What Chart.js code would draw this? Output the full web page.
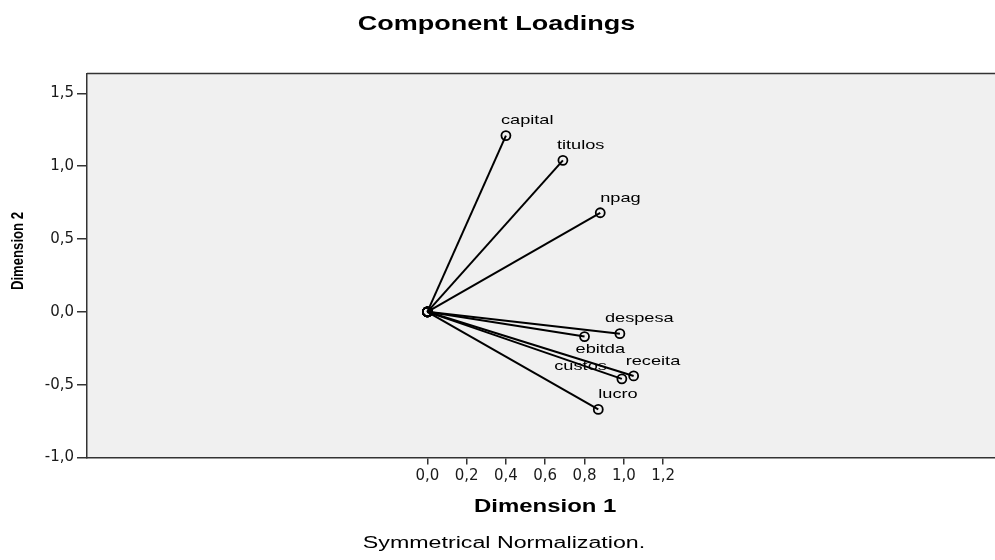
<!DOCTYPE html>
<html>
<head>
<meta charset="utf-8">
<title>Component Loadings</title>
<script src="https://cdn.jsdelivr.net/npm/chart.js@4.4.1/dist/chart.umd.min.js"></script>
<style>
    html, body { margin: 0; padding: 0; background: #ffffff; }
    #wrap { width: 995px; height: 560px; }
</style>
</head>
<body>
<div id="wrap"><canvas id="loadingsChart" width="995" height="560"></canvas></div>
<script>
// Datos (cargas de los componentes)
const VARIABLES = ['capital', 'titulos', 'npag', 'despesa', 'ebitda', 'receita', 'custos', 'lucro'];
const DIM1 = [0.40, 0.69, 0.88, 0.98, 0.80, 1.05, 0.99, 0.87];
const DIM2 = [1.21, 1.04, 0.68, -0.15, -0.17, -0.44, -0.46, -0.67];
const X_TICKS = [0.0, 0.2, 0.4, 0.6, 0.8, 1.0, 1.2];
const Y_TICKS = [-1.0, -0.5, 0.0, 0.5, 1.0, 1.5];
const X_RANGE = [-1.732, 2.889];
const Y_RANGE = [-1.0, 1.636];

// Colocación de etiquetas (px respecto al punto)
const LABEL_PLACEMENT = [
    { align: 'left', dx: -5, dy: -15 },
    { align: 'left', dx: -6, dy: -15 },
    { align: 'left', dx: 0, dy: -14 },
    { align: 'left', dx: -15, dy: -15 },
    { align: 'left', dx: -9, dy: 13 },
    { align: 'left', dx: -8, dy: -14 },
    { align: 'right', dx: -15, dy: -12 },
    { align: 'left', dx: 0, dy: -15 }
];

const COLORS = {
    ink: '#000000',
    axis: '#333333',
    plotBg: '#f0f0f0',
    tick: '#1a1a1a'
};
const FONT = "'Liberation Sans', Arial, sans-serif";

function fmt(v) {
    return Number(v).toFixed(1).replace('.', ',');
}

/**
 * Texto con estiramiento horizontal (sx)
 */
function drawText(ctx, text, x, y, font, sx, align, baseline) {
    ctx.save();
    ctx.font = font;
    ctx.fillStyle = COLORS.ink;
    ctx.textAlign = align || 'center';
    ctx.textBaseline = baseline || 'alphabetic';
    ctx.translate(x, y);
    ctx.scale(sx, 1);
    ctx.fillText(text, 0, 0);
    ctx.restore();
}

// Fondo gris y borde superior del área
const plotFrame = {
    id: 'plotFrame',
    beforeDraw(chart) {
        const { ctx, chartArea: a } = chart;
        ctx.save();
        ctx.fillStyle = COLORS.plotBg;
        ctx.fillRect(a.left, a.top, chart.width - a.left, a.bottom - a.top);
        ctx.strokeStyle = COLORS.axis;
        ctx.lineWidth = 1.5;
        ctx.beginPath();
        ctx.moveTo(a.left, a.top);
        ctx.lineTo(chart.width, a.top);
        ctx.stroke();
        ctx.restore();
    }
};

// Nombres de las variables junto a cada punto
const pointLabels = {
    id: 'pointLabels',
    afterDatasetsDraw(chart) {
        const ctx = chart.ctx;
        VARIABLES.forEach((name, i) => {
            const pt = chart.getDatasetMeta(i).data[1];
            const p = LABEL_PLACEMENT[i];
            drawText(ctx, name, pt.x + p.dx, pt.y + p.dy, '13px ' + FONT, 1.4, p.align, 'middle');
        });
    }
};

// Título, títulos de ejes y nota
const chartTexts = {
    id: 'chartTexts',
    afterDraw(chart) {
        const ctx = chart.ctx;
        const x = chart.scales.x;
        const xMid = (x.getPixelForValue(X_TICKS[0]) + x.getPixelForValue(X_TICKS[X_TICKS.length - 1])) / 2;

        drawText(ctx, 'Component Loadings', 496.5, 30, 'bold 20px ' + FONT, 1.35);
        drawText(ctx, 'Dimension 1', xMid, 512, 'bold 18px ' + FONT, 1.33);
        drawText(ctx, 'Symmetrical Normalization.', 504, 548, '16px ' + FONT, 1.45);

        ctx.save();
        ctx.translate(19, 251);
        ctx.rotate(-Math.PI / 2);
        drawText(ctx, 'Dimension 2', 0, 0, 'bold 16px ' + FONT, 0.82, 'center', 'middle');
        ctx.restore();
    }
};

const datasets = VARIABLES.map((name, i) => ({
    label: name,
    data: [{ x: 0, y: 0 }, { x: DIM1[i], y: DIM2[i] }],
    showLine: true,
    fill: false,
    borderColor: COLORS.ink,
    borderWidth: 2,
    pointRadius: 4.5,
    pointBorderWidth: 1.8,
    pointBorderColor: COLORS.ink,
    pointBackgroundColor: 'rgba(0,0,0,0)'
}));

new Chart(document.getElementById('loadingsChart'), {
    type: 'scatter',
    data: { datasets: datasets },
    plugins: [plotFrame, pointLabels, chartTexts],
    options: {
        responsive: false,
        animation: false,
        events: [],
        layout: {
            autoPadding: false,
            padding: { top: 73.5, right: 0, bottom: 67.5, left: 0 }
        },
        plugins: {
            legend: { display: false },
            tooltip: { enabled: false },
            title: { display: false }
        },
        scales: {
            x: {
                type: 'linear',
                min: X_RANGE[0],
                max: X_RANGE[1],
                afterBuildTicks: s => { s.ticks = X_TICKS.map(v => ({ value: v })); },
                afterFit: s => {
                    s.height = 35;
                    s.paddingLeft = 0;
                    s.paddingRight = 0;
                },
                grid: { drawOnChartArea: false, drawTicks: true, tickLength: 7, color: COLORS.axis, lineWidth: 1.5 },
                border: { display: true, color: COLORS.axis, width: 1.5 },
                ticks: {
                    padding: 3,
                    color: COLORS.tick,
                    autoSkip: false,
                    maxRotation: 0,
                    font: { family: "'DejaVu Sans', sans-serif", size: 15 },
                    callback: v => fmt(v)
                }
            },
            y: {
                type: 'linear',
                min: Y_RANGE[0],
                max: Y_RANGE[1],
                afterBuildTicks: s => { s.ticks = Y_TICKS.map(v => ({ value: v })); },
                afterFit: s => { s.width = 87; },
                grid: { drawOnChartArea: false, drawTicks: true, tickLength: 10, color: COLORS.axis, lineWidth: 1.5 },
                border: { display: true, color: COLORS.axis, width: 1.5 },
                ticks: {
                    padding: 3,
                    color: COLORS.tick,
                    autoSkip: false,
                    font: { family: "'DejaVu Sans', sans-serif", size: 15 },
                    callback: v => fmt(v)
                }
            }
        }
    }
});
</script>
</body>
</html>
